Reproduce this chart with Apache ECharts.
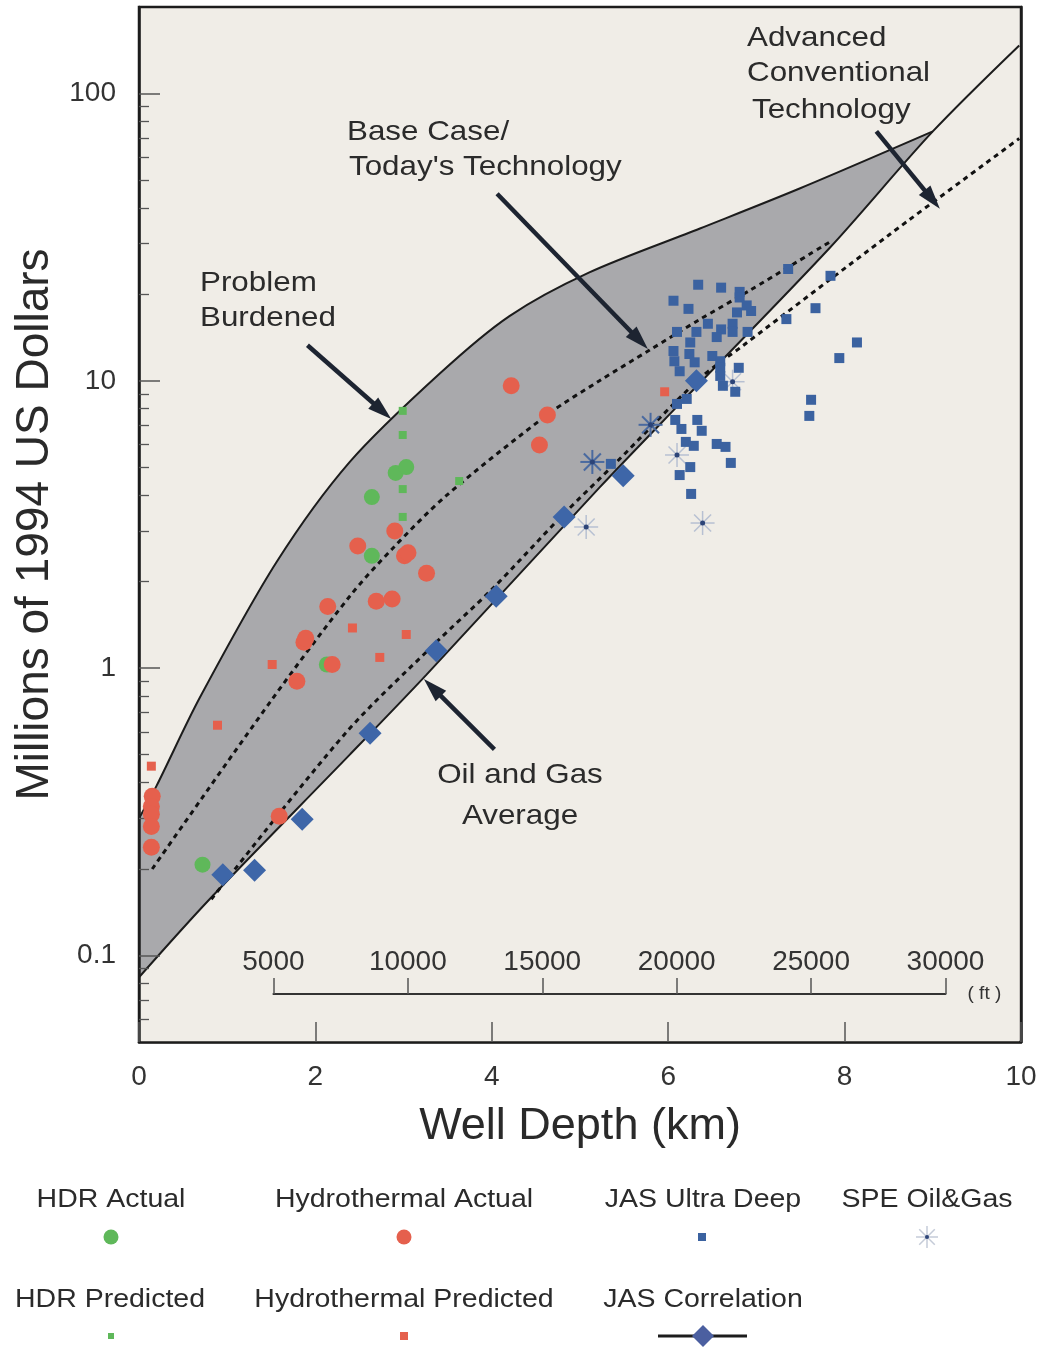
<!DOCTYPE html>
<html>
<head>
<meta charset="utf-8">
<script src="https://cdn.jsdelivr.net/npm/echarts@6/dist/echarts.min.js"></script>
<style>
  html, body { margin: 0; padding: 0; background: #fff; }
  #chart { width: 1045px; height: 1347px; }
</style>
</head>
<body>
<div id="chart"></div>
<script>
// well depth (km) vs cost (millions of 1994 US$)
var hydroActual = [[0.15,0.358],[0.14,0.330],[0.14,0.310],[0.14,0.281],[0.14,0.238],[1.59,0.305],
  [1.79,0.901],[1.87,1.23],[1.89,1.27],[2.14,1.64],[2.19,1.03],[2.48,2.66],[2.69,1.71],[2.87,1.74],
  [2.90,3.00],[3.01,2.46],[3.05,2.52],[3.26,2.14],[4.22,9.61],[4.63,7.61],[4.54,5.98]];
var hydroPredicted = [[0.14,0.456],[0.89,0.633],[1.51,1.03],[2.42,1.38],[3.03,1.31],[2.73,1.09],[5.96,9.16]];
var hdrActual = [[0.72,0.207],[2.13,1.03],[2.64,3.94],[2.64,2.46],[2.91,4.78],[3.03,5.01]];
var hdrPredicted = [[2.99,7.86],[2.99,6.48],[2.99,4.2],[2.99,3.36],[3.63,4.48]];
var jasCorrelation = [[0.95,0.191],[1.31,0.198],[1.85,0.298],[2.62,0.594],[3.37,1.15],[4.05,1.78],
  [4.82,3.36],[5.49,4.67],[6.32,10.0]];
var jasUltraDeep = [[7.36,24.5],[7.84,23.2],[6.34,21.6],[6.60,21.1],[6.06,19.0],[6.81,20.4],[6.81,19.5],
  [6.23,17.8],[6.89,18.3],[6.94,17.5],[6.78,17.3],[6.45,15.8],[6.73,15.8],[7.34,16.4],[7.67,17.9],
  [6.10,14.8],[6.32,14.8],[6.60,15.1],[6.55,14.2],[6.73,14.8],[6.90,14.8],[6.25,13.6],[8.14,13.6],
  [7.94,12.0],[6.06,12.7],[6.24,12.4],[6.50,12.2],[6.07,11.7],[6.30,11.6],[6.59,11.7],[6.13,10.8],
  [6.59,11.1],[6.80,11.1],[6.59,10.4],[6.62,9.61],[6.76,9.16],[6.10,8.31],[6.21,8.65],[7.62,8.59],
  [7.60,7.55],[6.08,7.31],[6.33,7.31],[6.38,6.70],[6.15,6.80],[6.20,6.13],[6.29,5.94],[6.55,6.03],
  [6.65,5.89],[6.71,5.18],[6.25,5.01],[6.13,4.70],[6.26,4.04],[5.35,5.14]];
// third value: 1 = drawn dark, 0 = drawn light
var speOilGas = [[5.14,5.22,1],[5.07,3.10,0],[5.80,7.03,1],[6.10,5.52,0],[6.39,3.20,0],[6.73,9.93,0]];

// envelope and trend curves
var upperBound = [[0,0.30],[0.2,0.39],[0.69,0.79],[1.56,2.34],[2.39,5.22],[3.41,10.6],
  [4.2,16.8],[5.1,23.8],[6.36,33.9],[7.49,46.7],[9.0,73.8]];
var lowerBound = [[0,0.084],[0.8,0.157],[2.39,0.5],[3.26,0.95],[5.22,4.25],[6.16,8.5],[7.83,29],
  [9.0,73.8],[9.98,147]];
var baseCase = [[0.15,0.20],[1.51,0.78],[2.39,1.78],[2.87,2.60],[3.49,4.0],[4.65,7.7],[5.22,10.0],
  [5.79,12.8],[6.35,16.3],[6.92,20.6],[7.86,30.8]];
var advancedTech = [[0.82,0.157],[2.35,0.598],[3.37,1.23],[4.0,1.88],[4.8,3.4],[5.41,5.2],[6.36,10.2],
  [6.84,13.2],[8.51,32.3],[9.98,69.7]];

// annotation arrows: [fromKm, fromCost, toKm, toCost]
var arrows = [[1.91,13.3,2.86,7.37],[4.06,44.8,5.77,12.9],[8.36,73.8,9.08,39.7],[4.03,0.522,3.23,0.916]];

var yMajorTicks = [0.1, 1, 10, 100];
var yMinorTicks = [0.06,0.07,0.08,0.09,0.2,0.3,0.4,0.5,0.6,0.7,0.8,0.9,2,3,4,5,6,7,8,9,20,30,40,50,60,70,80,90];
var ftTicks = [5000, 10000, 15000, 20000, 25000, 30000];

var FONT = '"Liberation Sans", Arial, Helvetica, sans-serif';
var FT_TO_KM = 0.0003048;
var GRID = { left: 139, top: 7, width: 882, height: 1035 };
var Y_MIN = 0.05, Y_MAX = 200;
var RED = '#e5604d', GREEN = '#5fb85a', BLUE = '#3b62a0', BAND = '#a9a9ac', PAPER = '#f0ede7', INK = '#1c1c1c';

var ftLeft = GRID.left + GRID.width * (ftTicks[0] * FT_TO_KM) / 10;
var ftWidth = GRID.width * ((ftTicks[ftTicks.length - 1] - ftTicks[0]) * FT_TO_KM) / 10;

function renderArrow(params, api) {
  var p0 = api.coord([api.value(0), api.value(1)]);
  var p1 = api.coord([api.value(2), api.value(3)]);
  var dx = p1[0] - p0[0], dy = p1[1] - p0[1];
  var len = Math.sqrt(dx * dx + dy * dy);
  var ux = dx / len, uy = dy / len, hl = 24, hw = 7.5;
  var bx = p1[0] - ux * hl, by = p1[1] - uy * hl;
  return {
    type: 'group',
    children: [
      { type: 'line', shape: { x1: p0[0], y1: p0[1], x2: bx + ux * 4, y2: by + uy * 4 },
        style: { stroke: '#1d2431', lineWidth: 4.5 } },
      { type: 'polygon', shape: { points: [[p1[0], p1[1]], [bx - uy * hw, by + ux * hw], [bx + uy * hw, by - ux * hw]] },
        style: { fill: '#1d2431' } }
    ]
  };
}

function starShape(cx, cy, r, stroke, width, dot) {
  var d = r * 0.7071;
  var segs = [[0, -r, 0, r], [-r, 0, r, 0], [-d, -d, d, d], [-d, d, d, -d]];
  var children = segs.map(function (s) {
    return { type: 'line', shape: { x1: cx + s[0], y1: cy + s[1], x2: cx + s[2], y2: cy + s[3] },
      style: { stroke: stroke, lineWidth: width } };
  });
  children.push({ type: 'circle', shape: { cx: cx, cy: cy, r: dot }, style: { fill: '#2c4478' } });
  return children;
}

function renderStar(params, api) {
  var c = api.coord([api.value(0), api.value(1)]);
  var dark = api.value(2) === 1;
  return { type: 'group', children: starShape(c[0], c[1], 12, dark ? '#4a6aa0' : '#b7c0d2', dark ? 2 : 1.5, 2.5) };
}

function txt(text, x, y, size, align, sx) {
  return { type: 'text', x: x, y: y, z: 100, scaleX: sx || 1.12,
    style: { text: text, fontSize: size, fontFamily: FONT, fill: '#2b2b2b', align: align || 'left', verticalAlign: 'middle' } };
}

var legendRow1 = 1200, legendSym1 = 1237, legendRow2 = 1300, legendSym2 = 1336;
var graphics = [
  txt('Problem', 200, 283, 28), txt('Burdened', 200, 318, 28),
  txt('Base Case/', 347, 132, 28), txt("Today's Technology", 349, 167, 28),
  txt('Advanced', 747, 38, 28), txt('Conventional', 747, 73, 28), txt('Technology', 752, 110, 28),
  txt('Oil and Gas', 520, 775, 28, 'center'), txt('Average', 520, 816, 28, 'center'),

  txt('HDR Actual', 111, legendRow1, 25, 'center', 1.14),
  txt('Hydrothermal Actual', 404, legendRow1, 25, 'center', 1.14),
  txt('JAS Ultra Deep', 703, legendRow1, 25, 'center', 1.14),
  txt('SPE Oil&Gas', 927, legendRow1, 25, 'center', 1.14),
  txt('HDR Predicted', 110, legendRow2, 25, 'center', 1.14),
  txt('Hydrothermal Predicted', 404, legendRow2, 25, 'center', 1.14),
  txt('JAS Correlation', 703, legendRow2, 25, 'center', 1.14),

  { type: 'circle', z: 100, shape: { cx: 111, cy: legendSym1, r: 7.5 }, style: { fill: GREEN } },
  { type: 'circle', z: 100, shape: { cx: 404, cy: legendSym1, r: 7.5 }, style: { fill: RED } },
  { type: 'rect', z: 100, shape: { x: 698, y: legendSym1 - 4, width: 8, height: 8 }, style: { fill: BLUE } },
  { type: 'group', z: 100, children: starShape(927, legendSym1, 11, '#c5cbd8', 1.5, 2) },
  { type: 'rect', z: 100, shape: { x: 108, y: legendSym2 - 3, width: 6, height: 6 }, style: { fill: GREEN } },
  { type: 'rect', z: 100, shape: { x: 400, y: legendSym2 - 4, width: 8, height: 8 }, style: { fill: RED } },
  { type: 'line', z: 100, shape: { x1: 658, y1: legendSym2, x2: 747, y2: legendSym2 }, style: { stroke: INK, lineWidth: 3 } },
  { type: 'polygon', z: 101, shape: { points: [[703, legendSym2 - 11], [714, legendSym2], [703, legendSym2 + 11], [692, legendSym2]] },
    style: { fill: '#4b5fa0' } }
];

var axisText = { fontSize: 28, color: '#333', fontFamily: FONT };
var curveBase = { type: 'line', smooth: 0.3, symbol: 'none', silent: true };

var chart = echarts.init(document.getElementById('chart'));
var option = {
  backgroundColor: '#ffffff',
  animation: false,
  grid: [
    { left: GRID.left, top: GRID.top, width: GRID.width, height: GRID.height, show: true,
      backgroundColor: PAPER, borderColor: INK, borderWidth: 2.5, outerBoundsMode: 'none' },
    { left: ftLeft, top: 950, width: ftWidth, height: 44, show: false, outerBoundsMode: 'none' }
  ],
  xAxis: [
    { type: 'value', gridIndex: 0, min: 0, max: 10, interval: 2, z: 5,
      axisLine: { show: true, lineStyle: { color: INK, width: 2.5 } },
      axisTick: { show: true, inside: true, length: 20, lineStyle: { color: '#555', width: 1.5 } },
      axisLabel: Object.assign({ margin: 21 }, axisText),
      splitLine: { show: false },
      name: 'Well Depth (km)', nameLocation: 'middle', nameGap: 62,
      nameTextStyle: { fontSize: 45, color: '#2a2a2a', fontFamily: FONT } },
    { type: 'value', gridIndex: 1, min: ftTicks[0], max: ftTicks[ftTicks.length - 1], interval: 5000, z: 5,
      position: 'bottom',
      axisLine: { show: true, lineStyle: { color: '#333', width: 2 } },
      axisTick: { show: true, inside: true, length: 16, lineStyle: { color: '#555', width: 1.5 } },
      axisLabel: Object.assign({ inside: true, margin: 18, formatter: function (v) { return String(v); } }, axisText),
      splitLine: { show: false },
      name: '( ft )', nameLocation: 'end', nameGap: 22,
      nameTextStyle: { fontSize: 19, color: '#333', fontFamily: FONT, verticalAlign: 'middle' } }
  ],
  yAxis: [
    { type: 'log', gridIndex: 0, min: Y_MIN, max: Y_MAX, logBase: 10, position: 'left', z: 5,
      axisLine: { show: true, lineStyle: { color: INK, width: 2.5 } },
      axisTick: { show: true, inside: true, length: 21, customValues: yMajorTicks, lineStyle: { color: '#555', width: 1.5 } },
      axisLabel: Object.assign({ margin: 23, customValues: yMajorTicks,
        formatter: function (v) { return String(parseFloat(Number(v).toPrecision(6))); } }, axisText),
      splitLine: { show: false },
      name: 'Millions of 1994 US Dollars', nameLocation: 'middle', nameGap: 80,
      nameTextStyle: { fontSize: 46, color: '#2a2a2a', fontFamily: FONT } },
    { type: 'log', gridIndex: 0, min: Y_MIN, max: Y_MAX, logBase: 10, position: 'left', z: 5,
      axisLine: { show: false },
      axisTick: { show: true, inside: true, length: 10, customValues: yMinorTicks, lineStyle: { color: '#555', width: 1.3 } },
      axisLabel: { show: false }, splitLine: { show: false } },
    { type: 'log', gridIndex: 0, min: Y_MIN, max: Y_MAX, logBase: 10, position: 'right', z: 5,
      axisLine: { show: true, lineStyle: { color: INK, width: 2.5 } },
      axisTick: { show: false }, axisLabel: { show: false }, splitLine: { show: false } },
    { type: 'value', gridIndex: 1, show: false }
  ],
  graphic: { elements: graphics },
  series: [
    Object.assign({ name: 'Problem Burdened', data: upperBound, z: 1,
      lineStyle: { color: INK, width: 2 }, areaStyle: { color: BAND, opacity: 1, origin: 'start' } }, curveBase),
    Object.assign({ name: 'Oil and Gas Average', data: lowerBound, z: 1,
      lineStyle: { color: INK, width: 2 }, areaStyle: { color: PAPER, opacity: 1, origin: 'start' } }, curveBase),
    Object.assign({ name: 'Base Case', data: baseCase, z: 2,
      lineStyle: { color: '#111', width: 3, type: [5, 4.5] } }, curveBase),
    Object.assign({ name: 'Advanced Conventional Technology', data: advancedTech, z: 2,
      lineStyle: { color: '#111', width: 3, type: [5, 4.5] } }, curveBase),
    { name: 'arrows', type: 'custom', renderItem: renderArrow, data: arrows, silent: true, z: 4,
      encode: { x: [0, 2], y: [1, 3] } },
    { name: 'Hydrothermal Predicted', type: 'scatter', data: hydroPredicted, symbol: 'rect', symbolSize: 9, z: 6,
      itemStyle: { color: RED, opacity: 1 } },
    { name: 'HDR Predicted', type: 'scatter', data: hdrPredicted, symbol: 'rect', symbolSize: 8, z: 6,
      itemStyle: { color: GREEN, opacity: 1 } },
    { name: 'JAS Ultra Deep', type: 'scatter', data: jasUltraDeep, symbol: 'rect', symbolSize: 10, z: 6,
      itemStyle: { color: BLUE, opacity: 1 } },
    { name: 'HDR Actual', type: 'scatter', data: hdrActual, symbol: 'circle', symbolSize: 16, z: 6,
      itemStyle: { color: GREEN, opacity: 1 } },
    { name: 'Hydrothermal Actual', type: 'scatter', data: hydroActual, symbol: 'circle', symbolSize: 17, z: 6,
      itemStyle: { color: RED, opacity: 1 } },
    { name: 'JAS Correlation', type: 'scatter', data: jasCorrelation, symbol: 'diamond', symbolSize: 23, z: 6,
      itemStyle: { color: '#3e66a8', opacity: 1 } },
    { name: 'SPE Oil&Gas', type: 'custom', renderItem: renderStar, data: speOilGas, z: 6,
      encode: { x: 0, y: 1 } }
  ]
};
chart.setOption(option);
</script>
</body>
</html>
